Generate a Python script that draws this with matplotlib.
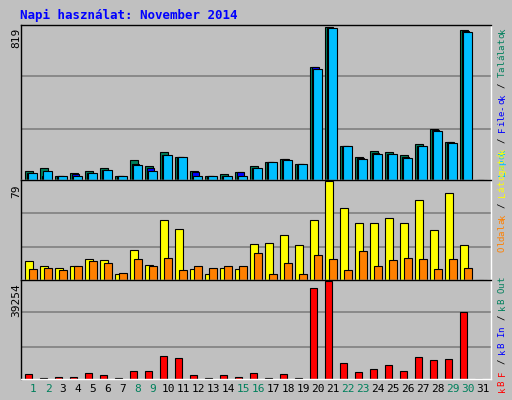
import matplotlib
matplotlib.use("Agg")
import matplotlib.pyplot as plt

days = list(range(1, 32))
hits = [46,65,24,35,46,65,24,107,74,152,124,46,24,30,41,74,96,115,85,608,819,185,124,157,152,135,191,271,202,802,0]
files = [35,24,24,30,35,52,24,85,63,135,124,41,24,24,41,63,96,115,85,604,817,185,119,146,141,124,185,267,202,800,0]
pages = [35,46,24,24,35,52,19,80,46,135,124,24,19,19,24,63,96,107,85,597,813,180,113,141,141,119,180,263,197,795,0]
visits = [15,11,10,11,17,16,5,24,12,48,41,9,5,10,9,29,30,36,28,48,79,58,46,46,50,46,64,40,70,28,0]
sites = [9,10,8,11,15,14,6,17,11,18,8,11,10,11,11,22,5,14,5,20,17,8,23,11,16,18,17,9,17,10,0]
kbytes = [1863,573,1003,1003,2293,1433,573,3153,3153,9171,8311,1433,573,1433,1003,2293,573,1863,573,36685,39254,6592,2723,4012,5732,3153,8741,7452,7882,26797,0]
weekend = {1,2,8,9,15,16,22,23,29,30}
title = "Napi használat: November 2014"

W, H = 512, 400
fig = plt.figure(figsize=(W/100, H/100), dpi=100)
fig.patch.set_facecolor("#C0C0C0")
mono = "DejaVu Sans Mono"

def ax_px(x0, y0, x1, y1):
    return fig.add_axes([x0/W, 1-y1/H, (x1-x0)/W, (y1-y0)/H])

def style(ax, top):
    ax.set_facecolor("#C0C0C0")
    ax.set_xlim(0, 470/15)
    ax.set_ylim(0, top*1.015)
    ax.set_xticks([]); ax.set_yticks([])
    for s in ax.spines.values():
        s.set_linewidth(1)
    ax.spines["right"].set_color("white")
    ax.spines["bottom"].set_color("white")
    for f in (0.333, 0.683):
        ax.axhline(top*f, color="#808080", lw=1.2, zorder=0)

x = [d-1 for d in days]
kw = dict(align="edge", edgecolor="black", linewidth=0.8)

a1 = ax_px(21, 25, 491, 180)
m1 = max(hits)
style(a1, m1)
a1.bar([v+0.27 for v in x], hits, width=0.5, color="#00805C", **kw)
a1.bar([v+0.38 for v in x], files, width=0.5, color="#0000FF", **kw)
a1.bar([v+0.49 for v in x], pages, width=0.55, color="#00BFFF", **kw)

a2 = ax_px(21, 180, 491, 280)
m2 = max(visits)
style(a2, m2)
a2.bar([v+0.27 for v in x], visits, width=0.55, color="#FFFF00", **kw)
a2.bar([v+0.55 for v in x], sites, width=0.49, color="#FF8000", **kw)

a3 = ax_px(21, 280, 491, 379)
m3 = max(kbytes)
style(a3, m3)
a3.bar([v+0.27 for v in x], kbytes, width=0.46, color="#FF0000", **kw)

for d in days:
    fig.text((21 + (d-1+0.8)*15)/W, 1-389/H, str(d), ha="center", va="center",
             family=mono, fontsize=8, color="#00805C" if d in weekend else "black")

fig.text(20/W, 1-15/H, title, family=mono, fontsize=9, fontweight="bold", color="#0000FF", va="center")
for yt, v in ((28, m1), (184, m2), (283, m3)):
    fig.text(16/W, 1-yt/H, str(v), rotation=90, ha="center", va="top", family=mono, fontsize=8)

PITCH = 5.5
def rlabel(ybot_px, parts):
    # parts listed bottom to top
    y = ybot_px
    for txt, col in parts:
        for ch in txt:
            if ch != " ":
                fig.text(502/W, 1-y/H, ch, rotation=90, ha="center", va="bottom",
                         family=mono, fontsize=6.6, color=col)
            y -= PITCH
rlabel(176, [("Lapok", "#00BFFF"), (" / ", "black"), ("File-ok", "#0000FF"), (" / ", "black"), ("Találatok", "#00805C")])
rlabel(252, [("Oldalak", "#FF8000"), (" / ", "black"), ("Látogatók", "#FFFF00")])
rlabel(392, [("kB F", "#FF0000"), (" / ", "black"), ("kB In", "#0000FF"), (" / ", "black"), ("kB Out", "#00805C")])

fig.savefig("out.png", dpi=100, facecolor=fig.get_facecolor())
